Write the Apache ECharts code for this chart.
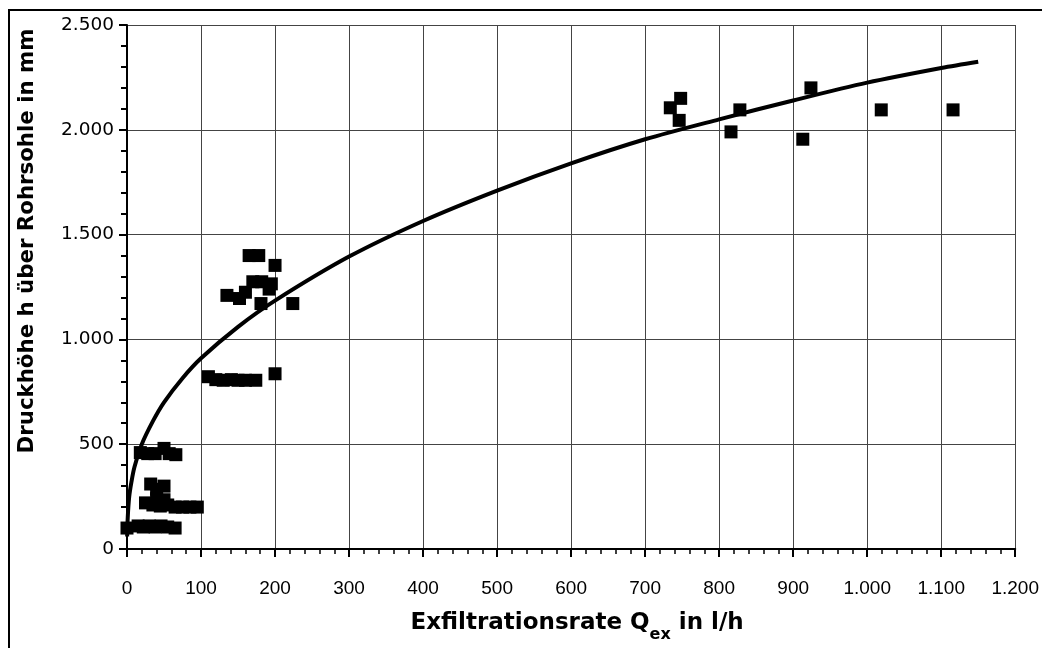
<!DOCTYPE html>
<html>
<head>
<meta charset="utf-8">
<script src="https://cdn.jsdelivr.net/npm/echarts@6/dist/echarts.min.js"></script>
<style>html,body{margin:0;padding:0;background:#fff}#c{width:1042px;height:648px}</style>
</head>
<body>
<div id="c"></div>
<script>
// Measurements: [Exfiltrationsrate l/h, Druckhöhe mm]
const pointsLow = [
  [0,100],[15,110],[22,105],[30,110],[38,105],[46,110],[55,105],[65,100],
  [25,220],[35,210],[45,205],[55,210],[65,200],[75,200],[85,200],[95,200],[40,240],[50,235],
  [32,310],[50,300],[40,285],
  [18,460],[28,455],[38,455],[50,480],[57,455],[66,450]
];
const pointsMid = [
  [110,822],[120,808],[130,805],[141,808],[150,805],[160,805],[174,805],[200,836],
  [165,1400],[178,1400],[200,1353],[170,1275],[182,1275],[195,1265],[192,1240],
  [135,1210],[152,1195],[160,1225],[181,1171],[224,1171]
];
const pointsHigh = [
  [734,2105],[748,2150],[746,2045],[828,2095],[816,1990],[924,2200],[913,1955],[1019,2095],[1116,2095]
];
// Trend curve
const curveX = [0.2,1,3,6,10,20,35,50,75,100,150,200,300,400,500,600,700,800,900,1000,1100,1150];
const curveY = [60,150,250,320,390,500,610,700,815,910,1060,1185,1395,1565,1710,1840,1955,2050,2140,2225,2295,2325];
const xTicks = {min:0, max:1200, interval:100};
const yTicks = {min:0, max:2500, interval:500};
const xTitle = 'Exfiltrationsrate Q';
const xTitleSub = 'ex';
const xTitleEnd = ' in l/h';
const yTitle = 'Druckhöhe h über Rohrsohle in mm';

const fmt = v => String(v).replace(/\B(?=(\d{3})+(?!\d))/g, '.');
const curve = curveX.map((x,i)=>[x, curveY[i]]);

const chart = echarts.init(document.getElementById('c'), null, {renderer:'canvas'});
chart.setOption({
  backgroundColor:'#fff',
  animation:false,
  grid:{left:127, right:26, top:25, bottom:99},
  graphic:[
    {type:'line', shape:{x1:8,y1:10,x2:1042,y2:10}, style:{stroke:'#000', lineWidth:2}},
    {type:'line', shape:{x1:9,y1:10,x2:9,y2:648}, style:{stroke:'#000', lineWidth:2}}
  ],
  xAxis:{
    type:'value', min:xTicks.min, max:xTicks.max, interval:xTicks.interval,
    axisLine:{show:true, onZero:false, lineStyle:{color:'#000', width:2}},
    axisTick:{show:true, length:8, lineStyle:{color:'#000', width:2}},
    minorTick:{show:true, splitNumber:5, length:5, lineStyle:{color:'#000', width:1.5}},
    splitLine:{show:true, lineStyle:{color:'#444', width:1}},
    axisLabel:{color:'#000', fontFamily:'Liberation Sans', fontSize:19, margin:30, formatter:fmt},
    name:'{a|'+xTitle+'}{b|'+xTitleSub+'}{a|'+xTitleEnd+'}',
    nameLocation:'middle', nameGap:63,
    nameTextStyle:{
      padding:[0,0,0,12],
      rich:{
        a:{fontFamily:'DejaVu Sans', fontWeight:'bold', fontSize:23, lineHeight:28, verticalAlign:'top', color:'#000'},
        b:{fontFamily:'DejaVu Sans', fontWeight:'bold', fontSize:16, lineHeight:16, verticalAlign:'top', padding:[15,0,0,0], color:'#000'}
      }
    }
  },
  yAxis:{
    type:'value', min:yTicks.min, max:yTicks.max, interval:yTicks.interval,
    axisLine:{show:true, onZero:false, lineStyle:{color:'#000', width:2}},
    axisTick:{show:true, length:8, lineStyle:{color:'#000', width:2}},
    minorTick:{show:true, splitNumber:5, length:6, lineStyle:{color:'#000', width:2}},
    splitLine:{show:true, lineStyle:{color:'#444', width:1}},
    axisLabel:{color:'#000', fontFamily:'DejaVu Sans', fontSize:18.5, margin:13, formatter:fmt},
    name:yTitle, nameLocation:'middle', nameGap:89,
    nameTextStyle:{fontFamily:'DejaVu Sans', fontWeight:'bold', fontSize:21.3, color:'#000', padding:[0,0,0,92]}
  },
  series:[
    {type:'line', data:curve, smooth:0.3, showSymbol:false, symbol:'none', lineStyle:{color:'#000', width:4}, z:3},
    {type:'scatter', data:pointsLow.concat(pointsMid, pointsHigh), symbol:'rect', symbolSize:13, itemStyle:{color:'#000', opacity:1}, z:4}
  ]
});
</script>
</body>
</html>
